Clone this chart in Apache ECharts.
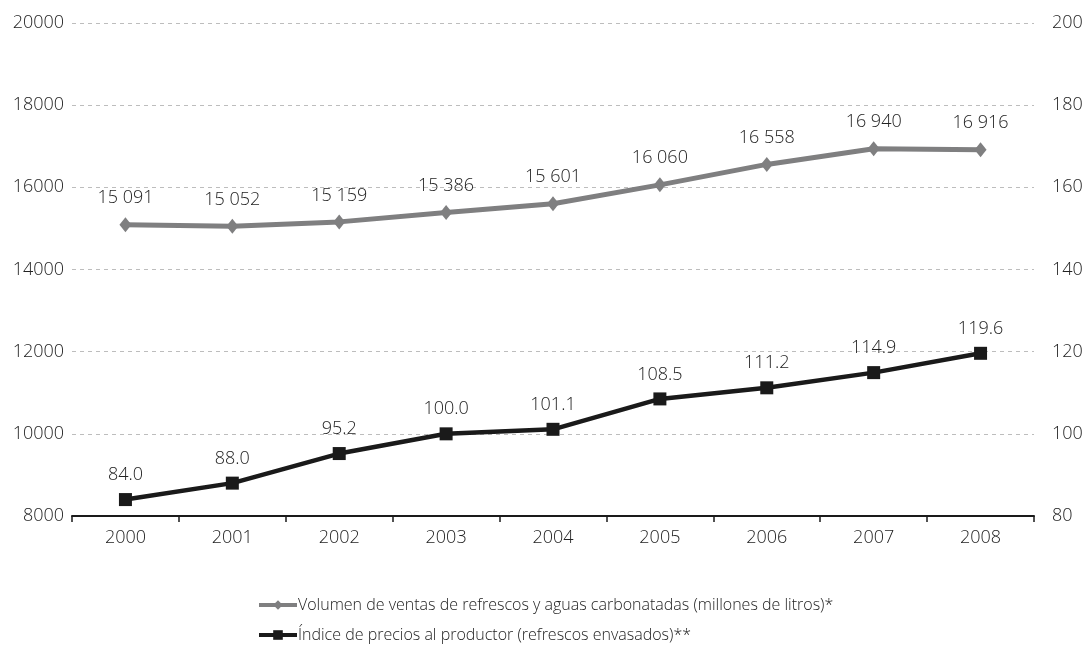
<!DOCTYPE html>
<html>
<head>
<meta charset="utf-8">
<script src="https://cdn.jsdelivr.net/npm/echarts@6/dist/echarts.min.js"></script>
<style>
html,body{margin:0;padding:0;background:#fff;}
#chart{width:1089px;height:645px;}
</style>
</head>
<body>
<div id="chart"></div>
<script>
const years = ['2000','2001','2002','2003','2004','2005','2006','2007','2008'];
const volumen = [15091, 15052, 15159, 15386, 15601, 16060, 16558, 16940, 16916];
const indice = [84.0, 88.0, 95.2, 100.0, 101.1, 108.5, 111.2, 114.9, 119.6];
const volumenName = 'Volumen de ventas de refrescos y aguas carbonatadas (millones de litros)*';
const indiceName = 'Índice de precios al productor (refrescos envasados)**';

const FONT = '"Open Sans", Lato, sans-serif';
const fmtThousands = v => String(Math.round(v)).replace(/\B(?=(\d{3})+(?!\d))/g, ' ');

const chart = echarts.init(document.getElementById('chart'));
chart.setOption({
  animation: false,
  backgroundColor: '#fff',
  textStyle: { fontFamily: FONT },
  grid: { left: 72, right: 55, top: 23, bottom: 129 },
  legend: {
    orient: 'vertical',
    left: 257,
    top: 597,
    height: 48,
    padding: 0,
    itemGap: 14,
    itemWidth: 38,
    itemHeight: 12,
    lineStyle: { width: 4 },
    textStyle: { fontFamily: FONT, fontSize: 16, fontWeight: 300, color: '#222', padding: [0, 0, 0, -4] },
    data: [volumenName, indiceName]
  },
  xAxis: {
    type: 'category',
    data: years,
    boundaryGap: true,
    axisLine: { lineStyle: { color: '#1a1a1a', width: 2 } },
    axisTick: { show: true, length: 6, lineStyle: { color: '#1a1a1a', width: 1.5 } },
    axisLabel: { color: '#222', fontSize: 18, fontWeight: 300, margin: 13, fontFamily: FONT }
  },
  yAxis: [
    {
      type: 'value', min: 8000, max: 20000, interval: 2000, position: 'left',
      axisLine: { show: false }, axisTick: { show: false },
      axisLabel: { color: '#222', fontSize: 18, fontWeight: 300, margin: 8, fontFamily: FONT,
        formatter: v => String(v) },
      splitLine: { lineStyle: { color: '#bdbdbd', type: [4, 4], width: 1 } }
    },
    {
      type: 'value', min: 80, max: 200, interval: 20, position: 'right',
      axisLine: { show: false }, axisTick: { show: false },
      axisLabel: { color: '#222', fontSize: 18, fontWeight: 300, margin: 18, fontFamily: FONT },
      splitLine: { show: false }
    }
  ],
  series: [
    {
      name: volumenName,
      type: 'line',
      yAxisIndex: 0,
      data: volumen,
      symbol: 'diamond',
      symbolSize: [12, 15],
      lineStyle: { color: '#7f7f80', width: 5 },
      itemStyle: { color: '#7f7f80' },
      label: {
        show: true, position: 'top', distance: 10,
        color: '#222', fontSize: 18, fontWeight: 300, fontFamily: FONT,
        formatter: p => fmtThousands(p.value)
      }
    },
    {
      name: indiceName,
      type: 'line',
      yAxisIndex: 1,
      data: indice,
      symbol: 'rect',
      symbolSize: 13,
      lineStyle: { color: '#1a1a1a', width: 4.5 },
      itemStyle: { color: '#1a1a1a' },
      label: {
        show: true, position: 'top', distance: 9,
        color: '#222', fontSize: 18, fontWeight: 300, fontFamily: FONT,
        formatter: p => p.value.toFixed(1)
      }
    }
  ]
});
</script>
</body>
</html>
